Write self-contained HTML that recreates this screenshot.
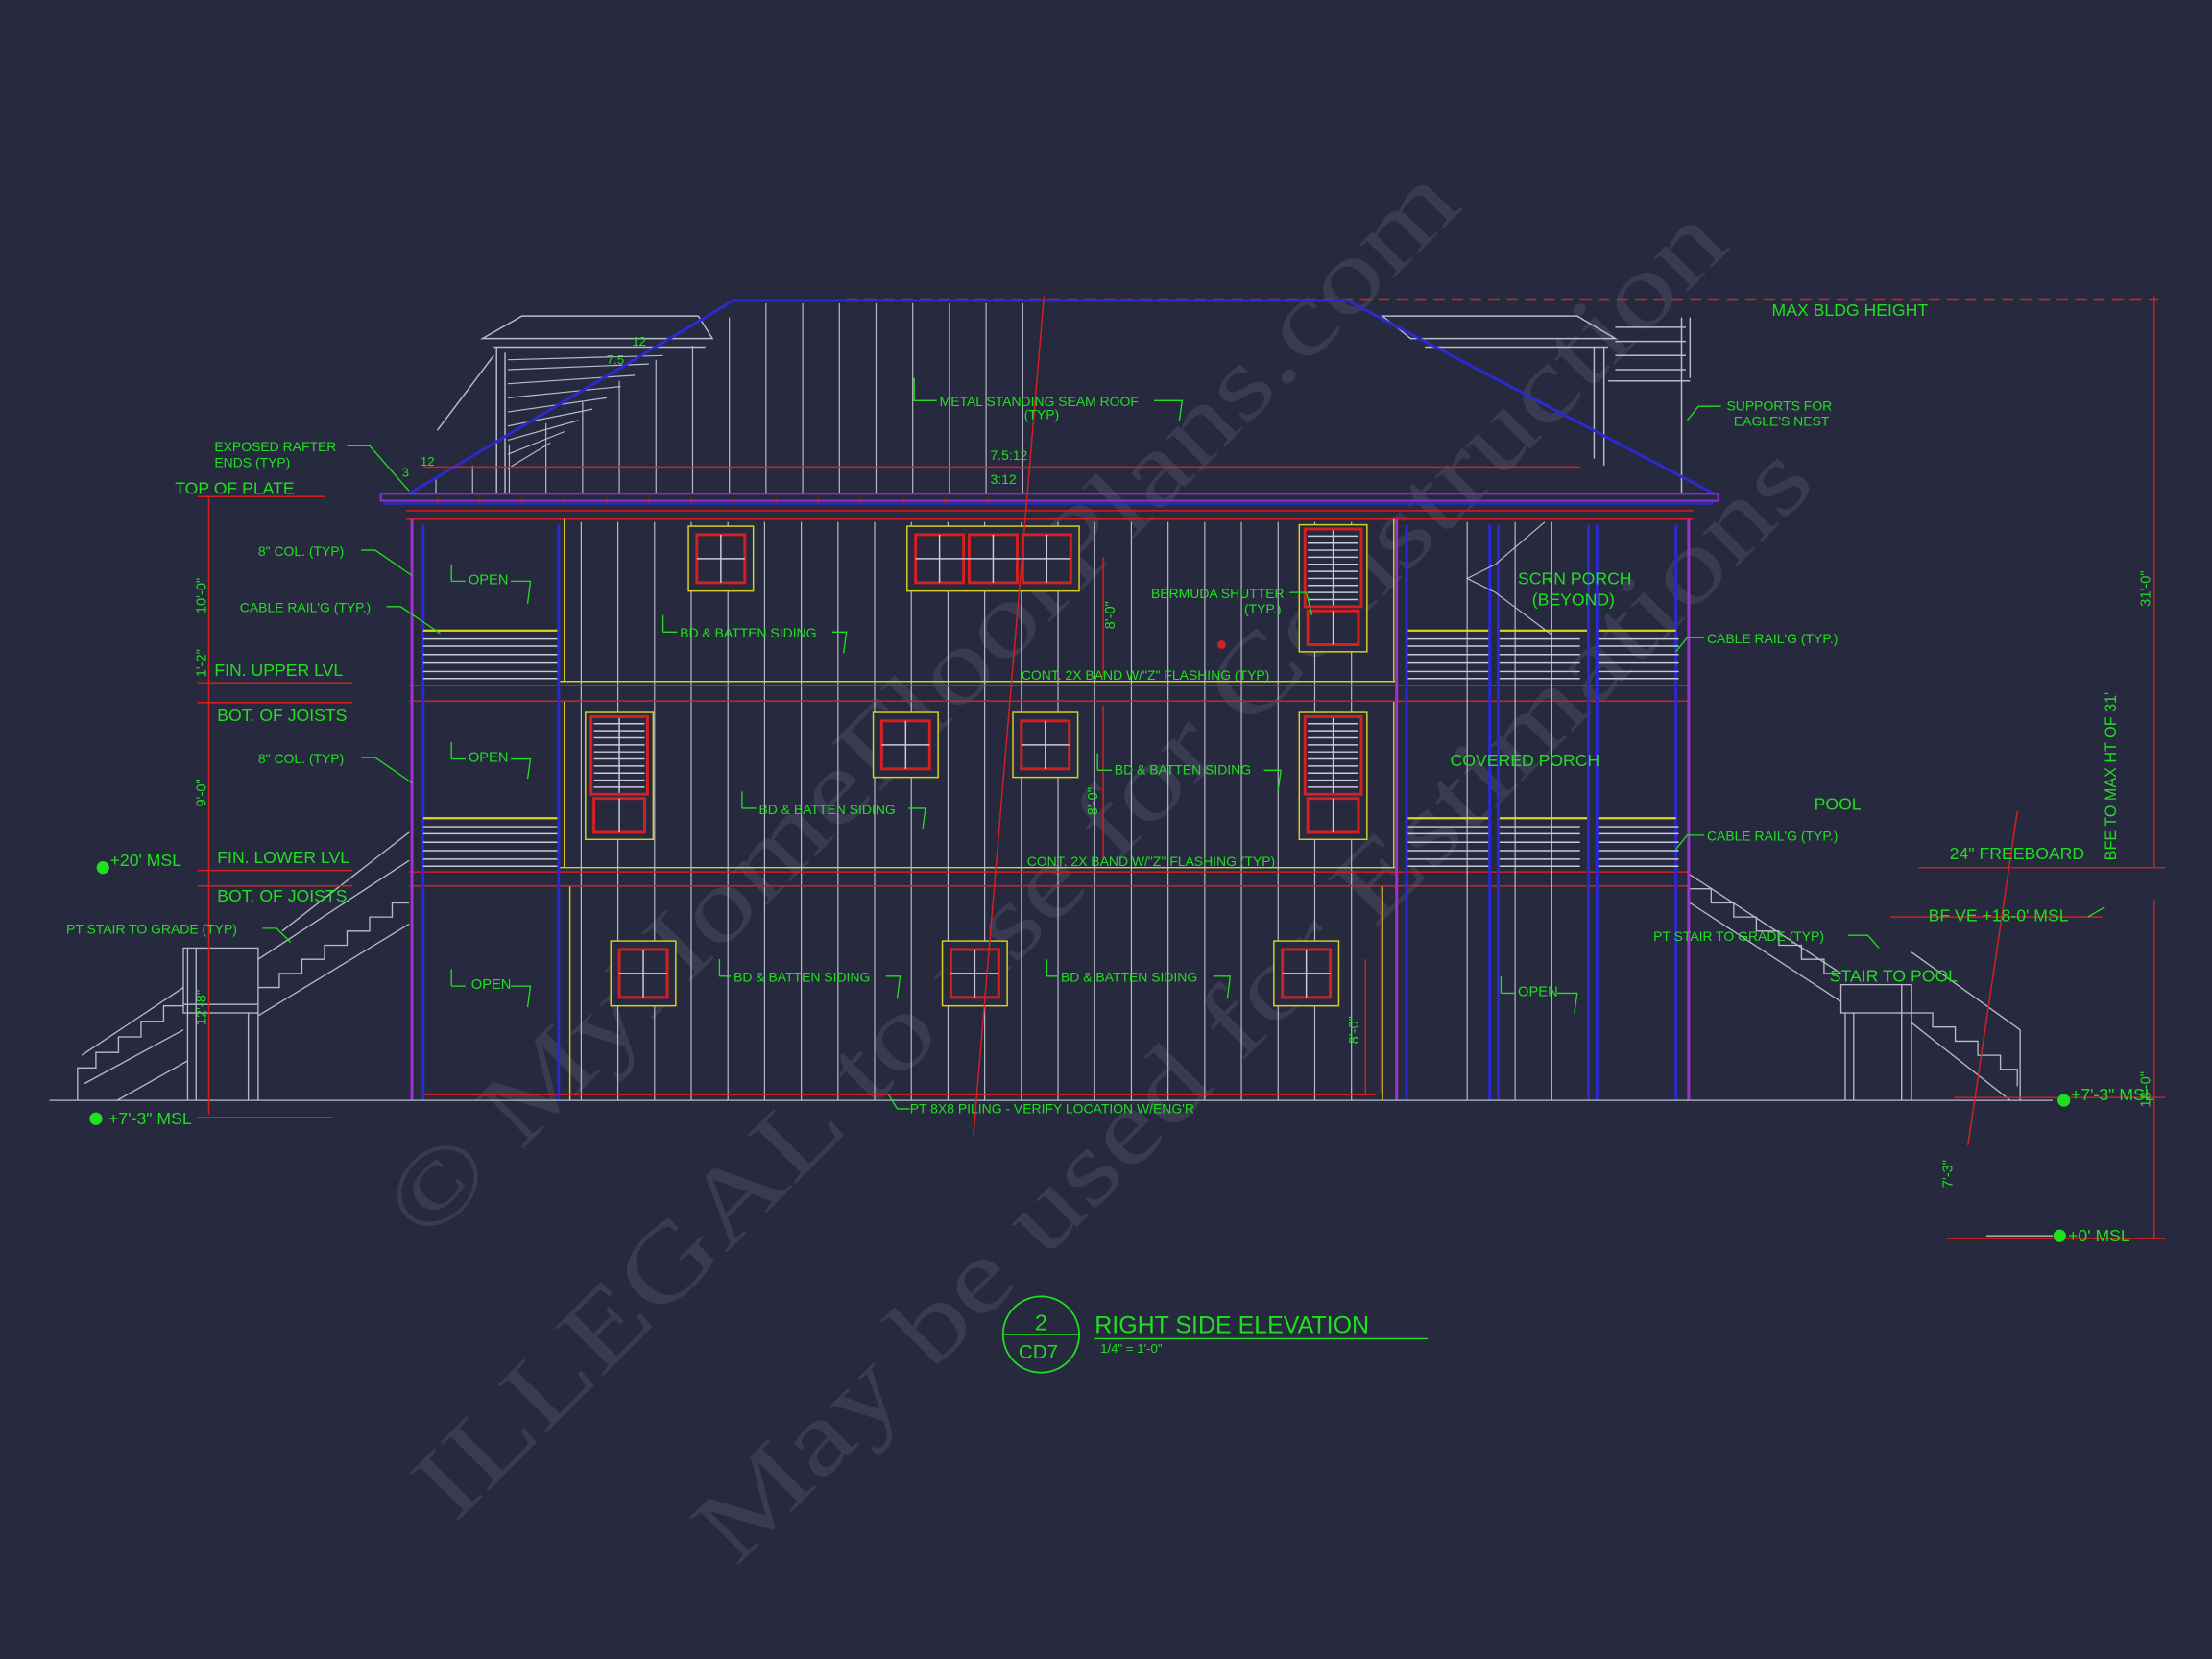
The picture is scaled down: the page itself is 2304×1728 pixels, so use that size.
<!DOCTYPE html>
<html><head><meta charset="utf-8"><style>
html,body{margin:0;padding:0;background:#272a3e;}
svg{display:block}
text{font-family:"Liberation Sans",sans-serif;fill:#1fe01f;}
</style></head><body>
<svg width="2304" height="1728" viewBox="0 0 1568 1176" xmlns="http://www.w3.org/2000/svg">
<rect width="1568" height="1176" fill="#272a3e"/>
<!-- watermark -->
<g>
<text x="0" y="0" font-size="74" textLength="1040" lengthAdjust="spacingAndGlyphs" transform="translate(670,515) rotate(-45)" text-anchor="middle" style="fill:#393c51;font-family:'Liberation Serif',serif">© MyHomeFloorPlans.com</text>
<text x="0" y="0" font-size="74" textLength="1280" lengthAdjust="spacingAndGlyphs" transform="translate(775,628) rotate(-45)" text-anchor="middle" style="fill:#393c51;font-family:'Liberation Serif',serif">ILLEGAL to use for Construction</text>
<text x="0" y="0" font-size="74" textLength="1085" lengthAdjust="spacingAndGlyphs" transform="translate(905,728) rotate(-45)" text-anchor="middle" style="fill:#393c51;font-family:'Liberation Serif',serif">May be used for Estimations</text>
</g>

<line x1="600" y1="212" x2="1530" y2="212" stroke="#d42020" stroke-width="1" stroke-dasharray="8,5"/>
<g fill="none" stroke="#b8bcc8" stroke-width="1">
<polygon points="342,240 370,224 495,224 505,240"/>
<line x1="350" y1="246" x2="500" y2="246"/>
<line x1="352" y1="246" x2="352" y2="350"/>
<line x1="358" y1="250" x2="358" y2="350"/>
<line x1="350" y1="252" x2="310" y2="305"/>
<polygon points="980,224 1118,224 1145,240 1000,240"/>
<line x1="1010" y1="246" x2="1140" y2="246"/>
<line x1="1130" y1="246" x2="1130" y2="325"/>
<line x1="1137" y1="246" x2="1137" y2="330"/>
<line x1="1192" y1="225" x2="1192" y2="350"/>
<line x1="1198" y1="225" x2="1198" y2="268"/>
<line x1="1145" y1="232" x2="1195" y2="232"/><line x1="1145" y1="242" x2="1195" y2="242"/>
<line x1="1145" y1="252" x2="1195" y2="252"/><line x1="1145" y1="262" x2="1195" y2="262"/>
<line x1="1140" y1="270" x2="1198" y2="270"/>
</g>
<g stroke="#b8bcc8" stroke-width="0.8">
<line x1="360" y1="255" x2="470" y2="252"/>
<line x1="360" y1="262" x2="460" y2="258"/><line x1="360" y1="272" x2="450" y2="266"/>
<line x1="360" y1="282" x2="440" y2="274"/><line x1="360" y1="292" x2="430" y2="282"/>
<line x1="360" y1="302" x2="420" y2="290"/><line x1="360" y1="312" x2="410" y2="298"/>
<line x1="360" y1="322" x2="400" y2="306"/><line x1="360" y1="332" x2="390" y2="314"/>
</g>
<g stroke="#b8bcc8" stroke-width="0.8">
<line x1="543" y1="215" x2="543" y2="350"/><line x1="569" y1="215" x2="569" y2="350"/>
<line x1="595" y1="215" x2="595" y2="350"/><line x1="621" y1="215" x2="621" y2="350"/>
<line x1="647" y1="215" x2="647" y2="350"/><line x1="673" y1="215" x2="673" y2="350"/>
<line x1="699" y1="215" x2="699" y2="350"/><line x1="725" y1="215" x2="725" y2="350"/>
<line x1="517" y1="225" x2="517" y2="350"/><line x1="491" y1="245" x2="491" y2="350"/>
<line x1="465" y1="255" x2="465" y2="350"/><line x1="439" y1="270" x2="439" y2="350"/>
<line x1="413" y1="285" x2="413" y2="350"/><line x1="387" y1="300" x2="387" y2="350"/>
<line x1="361" y1="315" x2="361" y2="350"/><line x1="335" y1="330" x2="335" y2="350"/>
<line x1="309" y1="340" x2="309" y2="350"/>
</g>
<polyline points="290,350 520,213 955,213 1215,350" fill="none" stroke="#2a2ad0" stroke-width="2"/>
<line x1="300" y1="331" x2="1120" y2="331" stroke="#d42020" stroke-width="1"/>
<rect x="270" y="350" width="948" height="5" fill="none" stroke="#8a2ad0" stroke-width="1.5"/>
<line x1="272" y1="357" x2="1215" y2="357" stroke="#2a2ad0" stroke-width="1.5"/>
<line x1="288" y1="362" x2="1200" y2="362" stroke="#d42020"/>
<line x1="288" y1="368" x2="1200" y2="368" stroke="#d42020"/>
<g fill="#d42020"><circle cx="310" cy="355" r="1.2"/><circle cx="340" cy="355" r="1.2"/><circle cx="370" cy="355" r="1.2"/><circle cx="400" cy="355" r="1.2"/><circle cx="430" cy="355" r="1.2"/><circle cx="460" cy="355" r="1.2"/><circle cx="490" cy="355" r="1.2"/><circle cx="520" cy="355" r="1.2"/><circle cx="550" cy="355" r="1.2"/><circle cx="580" cy="355" r="1.2"/><circle cx="610" cy="355" r="1.2"/><circle cx="640" cy="355" r="1.2"/><circle cx="670" cy="355" r="1.2"/><circle cx="700" cy="355" r="1.2"/><circle cx="866" cy="457" r="3"/></g>

<g stroke="#b8bcc8" stroke-width="0.8">
<line x1="412" y1="370" x2="412" y2="780"/><line x1="438" y1="370" x2="438" y2="780"/><line x1="464" y1="370" x2="464" y2="780"/>
<line x1="490" y1="370" x2="490" y2="780"/><line x1="516" y1="370" x2="516" y2="780"/><line x1="542" y1="370" x2="542" y2="780"/>
<line x1="568" y1="370" x2="568" y2="780"/><line x1="594" y1="370" x2="594" y2="780"/><line x1="620" y1="370" x2="620" y2="780"/>
<line x1="646" y1="370" x2="646" y2="780"/><line x1="672" y1="370" x2="672" y2="780"/><line x1="698" y1="370" x2="698" y2="780"/>
<line x1="724" y1="370" x2="724" y2="780"/><line x1="750" y1="370" x2="750" y2="780"/><line x1="776" y1="370" x2="776" y2="780"/>
<line x1="802" y1="370" x2="802" y2="780"/><line x1="828" y1="370" x2="828" y2="780"/><line x1="854" y1="370" x2="854" y2="780"/>
<line x1="880" y1="370" x2="880" y2="780"/><line x1="906" y1="370" x2="906" y2="780"/><line x1="932" y1="370" x2="932" y2="780"/>
<line x1="958" y1="370" x2="958" y2="780"/>
</g>
<g fill="none" stroke="#d8d020" stroke-width="1">
<line x1="400" y1="368" x2="400" y2="483"/><line x1="988" y1="368" x2="988" y2="483"/>
<line x1="400" y1="497" x2="400" y2="615"/><line x1="988" y1="497" x2="988" y2="615"/>
<line x1="404" y1="628" x2="404" y2="780"/><line x1="980" y1="628" x2="980" y2="780"/>
<line x1="396" y1="483" x2="990" y2="483"/><line x1="396" y1="615" x2="990" y2="615"/>
</g>
<g stroke="#d42020" stroke-width="1">
<line x1="290" y1="486" x2="1198" y2="486"/><line x1="290" y1="497" x2="1198" y2="497"/>
<line x1="290" y1="618" x2="1198" y2="618"/><line x1="290" y1="628" x2="1198" y2="628"/>
<line x1="300" y1="776" x2="975" y2="776"/>
<line x1="979" y1="628" x2="979" y2="776"/>
</g>
<g fill="none" stroke-width="2">
<line x1="292" y1="368" x2="292" y2="780" stroke="#a030d0"/>
<line x1="300" y1="372" x2="300" y2="780" stroke="#2a2ad0"/>
<line x1="396" y1="372" x2="396" y2="780" stroke="#2a2ad0"/>
<line x1="990" y1="368" x2="990" y2="780" stroke="#a030d0"/>
<line x1="997" y1="372" x2="997" y2="780" stroke="#2a2ad0"/>
<line x1="1056" y1="372" x2="1056" y2="780" stroke="#2a2ad0"/>
<line x1="1062" y1="372" x2="1062" y2="780" stroke="#2a2ad0"/>
<line x1="1126" y1="372" x2="1126" y2="780" stroke="#2a2ad0"/>
<line x1="1132" y1="372" x2="1132" y2="780" stroke="#2a2ad0"/>
<line x1="1188" y1="372" x2="1188" y2="780" stroke="#2a2ad0"/>
<line x1="1197" y1="368" x2="1197" y2="780" stroke="#a030d0"/>
</g>
<g stroke="#b8bcc8" stroke-width="0.8" fill="none">
<line x1="1040" y1="370" x2="1040" y2="780"/><line x1="1074" y1="370" x2="1074" y2="780"/><line x1="1100" y1="370" x2="1100" y2="780"/>
<polyline points="1095,370 1060,400 1040,410 1060,420 1100,450"/>
</g>
<g stroke="#c8ccd8" stroke-width="1">
<g id="r1">
<line x1="300" y1="453" x2="395" y2="453"/><line x1="300" y1="458" x2="395" y2="458"/><line x1="300" y1="464" x2="395" y2="464"/><line x1="300" y1="470" x2="395" y2="470"/><line x1="300" y1="476" x2="395" y2="476"/><line x1="300" y1="481" x2="395" y2="481"/>
</g>
<use href="#r1" transform="translate(0,133)"/>
<g id="r2">
<line x1="998" y1="453" x2="1055" y2="453"/><line x1="998" y1="458" x2="1055" y2="458"/><line x1="998" y1="464" x2="1055" y2="464"/><line x1="998" y1="470" x2="1055" y2="470"/><line x1="998" y1="476" x2="1055" y2="476"/><line x1="998" y1="481" x2="1055" y2="481"/>
</g>
<use href="#r2" transform="translate(65,0)"/><use href="#r2" transform="translate(135,0)"/>
<use href="#r2" transform="translate(0,133)"/><use href="#r2" transform="translate(65,133)"/><use href="#r2" transform="translate(135,133)"/>
</g>
<g stroke="#e0d820" stroke-width="1.5">
<line x1="300" y1="447" x2="395" y2="447"/><line x1="300" y1="580" x2="395" y2="580"/>
<line x1="998" y1="447" x2="1055" y2="447"/><line x1="1063" y1="447" x2="1125" y2="447"/><line x1="1133" y1="447" x2="1188" y2="447"/>
<line x1="998" y1="580" x2="1055" y2="580"/><line x1="1063" y1="580" x2="1125" y2="580"/><line x1="1133" y1="580" x2="1188" y2="580"/>
</g>

<g fill="#272a3e" stroke-width="2">
<rect x="488" y="373" width="46" height="46" stroke="#d8d020" stroke-width="1"/>
<rect x="494" y="379" width="34" height="34" stroke="#d42020"/>
<rect x="643" y="373" width="122" height="46" stroke="#d8d020" stroke-width="1"/>
<rect x="649" y="379" width="34" height="34" stroke="#d42020"/><rect x="687" y="379" width="34" height="34" stroke="#d42020"/><rect x="725" y="379" width="34" height="34" stroke="#d42020"/>
<rect x="619" y="505" width="46" height="46" stroke="#d8d020" stroke-width="1"/><rect x="625" y="511" width="34" height="34" stroke="#d42020"/>
<rect x="718" y="505" width="46" height="46" stroke="#d8d020" stroke-width="1"/><rect x="724" y="511" width="34" height="34" stroke="#d42020"/>
<rect x="433" y="667" width="46" height="46" stroke="#d8d020" stroke-width="1"/><rect x="439" y="673" width="34" height="34" stroke="#d42020"/>
<rect x="668" y="667" width="46" height="46" stroke="#d8d020" stroke-width="1"/><rect x="674" y="673" width="34" height="34" stroke="#d42020"/>
<rect x="903" y="667" width="46" height="46" stroke="#d8d020" stroke-width="1"/><rect x="909" y="673" width="34" height="34" stroke="#d42020"/>
<rect x="921" y="372" width="48" height="90" stroke="#d8d020" stroke-width="1"/>
<rect x="925" y="375" width="40" height="55" stroke="#d42020"/><rect x="927" y="433" width="36" height="24" stroke="#d42020"/>
<rect x="415" y="505" width="48" height="90" stroke="#d8d020" stroke-width="1"/>
<rect x="419" y="508" width="40" height="55" stroke="#d42020"/><rect x="421" y="566" width="36" height="24" stroke="#d42020"/>
<rect x="921" y="505" width="48" height="90" stroke="#d8d020" stroke-width="1"/>
<rect x="925" y="508" width="40" height="55" stroke="#d42020"/><rect x="927" y="566" width="36" height="24" stroke="#d42020"/>
</g>
<g stroke="#c8ccd8" stroke-width="1">
<path d="M494,396h34M511,379v34M649,396h110M666,379v34M704,379v34M742,379v34M625,528h34M642,511v34M724,528h34M741,511v34M439,690h34M456,673v34M674,690h34M691,673v34M909,690h34M926,673v34M945,433v24M439,566v24M945,566v24"/>
<path d="M927,380h36M927,385h36M927,390h36M927,395h36M927,400h36M927,405h36M927,410h36M927,415h36M927,420h36M927,425h36M945,376v53"/>
<path d="M421,513h36M421,518h36M421,523h36M421,528h36M421,533h36M421,538h36M421,543h36M421,548h36M421,553h36M421,558h36M439,509v53"/>
<path d="M927,513h36M927,518h36M927,523h36M927,528h36M927,533h36M927,538h36M927,543h36M927,548h36M927,553h36M927,558h36M945,509v53"/>
</g>

<g fill="none" stroke="#b8bcc8" stroke-width="0.9">
<line x1="35" y1="780" x2="1455" y2="780"/>
<polyline points="55,780 55,757 68,757 68,746 84,746 84,735 100,735 100,724 116,724 116,713 130,713"/>
<line x1="60" y1="768" x2="130" y2="730"/><line x1="83" y1="780" x2="133" y2="752"/>
<line x1="58" y1="748" x2="130" y2="700"/>
<rect x="130" y="672" width="53" height="46"/>
<line x1="130" y1="712" x2="183" y2="712"/>
<line x1="133" y1="672" x2="133" y2="780"/><line x1="139" y1="672" x2="139" y2="780"/>
<line x1="176" y1="718" x2="176" y2="780"/><line x1="183" y1="718" x2="183" y2="780"/>
<line x1="183" y1="680" x2="290" y2="610"/><line x1="183" y1="720" x2="290" y2="655"/>
<polyline points="183,700 198,700 198,690 214,690 214,680 230,680 230,670 246,670 246,660 262,660 262,650 278,650 278,640 290,640"/>
<line x1="290" y1="590" x2="200" y2="660"/>
<line x1="1198" y1="620" x2="1305" y2="690"/><line x1="1198" y1="640" x2="1305" y2="710"/>
<polyline points="1198,630 1213,630 1213,640 1229,640 1229,650 1245,650 1245,660 1261,660 1261,670 1277,670 1277,680 1293,680 1293,690 1305,690"/>
<rect x="1305" y="698" width="50" height="20"/>
<line x1="1308" y1="718" x2="1308" y2="780"/><line x1="1314" y1="718" x2="1314" y2="780"/>
<line x1="1348" y1="698" x2="1348" y2="780"/><line x1="1355" y1="698" x2="1355" y2="780"/>
<line x1="1355" y1="675" x2="1432" y2="730"/><line x1="1432" y1="730" x2="1432" y2="780"/>
<line x1="1355" y1="725" x2="1425" y2="780"/>
<polyline points="1355,718 1370,718 1370,728 1386,728 1386,738 1402,738 1402,748 1418,748 1418,758 1430,758 1430,770"/>
</g>

<g stroke="#d42020" stroke-width="1" fill="none">
<line x1="148" y1="352" x2="148" y2="790"/>
<line x1="140" y1="352" x2="230" y2="352"/>
<line x1="140" y1="484" x2="250" y2="484"/><line x1="140" y1="498" x2="250" y2="498"/>
<line x1="140" y1="617" x2="250" y2="617"/><line x1="140" y1="628" x2="250" y2="628"/>
<line x1="140" y1="792" x2="236" y2="792"/>
<line x1="1527" y1="210" x2="1527" y2="615"/><line x1="1360" y1="615" x2="1535" y2="615"/>
<line x1="1527" y1="638" x2="1527" y2="878"/><line x1="1380" y1="878" x2="1535" y2="878"/>
<line x1="1385" y1="778" x2="1535" y2="778"/>
<line x1="1395" y1="812" x2="1430" y2="575"/>
<line x1="1340" y1="650" x2="1490" y2="650"/>
<line x1="782" y1="395" x2="782" y2="480"/><line x1="782" y1="500" x2="782" y2="610"/><line x1="968" y1="680" x2="968" y2="776"/>
<line x1="740" y1="210" x2="690" y2="805"/>
</g>
<line x1="1408" y1="876" x2="1455" y2="876" stroke="#b8bcc8"/>

<g font-size="10.5">
<text x="1256" y="224" font-size="12">MAX BLDG HEIGHT</text>
<text x="666" y="288" font-size="9.5">METAL STANDING SEAM ROOF</text><text x="726" y="297" font-size="9.5">(TYP)</text>
<text x="702" y="326" font-size="9.5">7.5:12</text><text x="702" y="343" font-size="9.5">3:12</text>
<text x="448" y="245" font-size="9">12</text><text x="430" y="258" font-size="9">7.5</text>
<text x="298" y="330" font-size="9">12</text><text x="285" y="338" font-size="9">3</text>
<text x="152" y="320" font-size="9.5">EXPOSED RAFTER</text><text x="152" y="331" font-size="9.5">ENDS (TYP)</text>
<text x="124" y="350" font-size="12">TOP OF PLATE</text>
<text x="183" y="394" font-size="9.5">8" COL. (TYP)</text>
<text x="170" y="434" font-size="9.5">CABLE RAIL'G (TYP.)</text>
<text x="152" y="479" font-size="12">FIN. UPPER LVL</text>
<text x="154" y="511" font-size="12">BOT. OF JOISTS</text>
<text x="183" y="541" font-size="9.5">8" COL. (TYP)</text>
<text x="154" y="612" font-size="12">FIN. LOWER LVL</text>
<text x="154" y="639" font-size="12">BOT. OF JOISTS</text>
<text x="78" y="614" font-size="12">+20' MSL</text>
<text x="47" y="662" font-size="9.5">PT STAIR TO GRADE (TYP)</text>
<text x="77" y="797" font-size="12">+7'-3" MSL</text>
<text x="332" y="414" font-size="10">OPEN</text><text x="332" y="540" font-size="10">OPEN</text><text x="334" y="701" font-size="10">OPEN</text>
<text x="1076" y="706" font-size="10">OPEN</text>
<text x="482" y="452" font-size="9.5">BD &amp; BATTEN SIDING</text>
<text x="538" y="577" font-size="9.5">BD &amp; BATTEN SIDING</text>
<text x="520" y="696" font-size="9.5">BD &amp; BATTEN SIDING</text>
<text x="752" y="696" font-size="9.5">BD &amp; BATTEN SIDING</text>
<text x="790" y="549" font-size="9.5">BD &amp; BATTEN SIDING</text>
<text x="724" y="482" font-size="9.5">CONT. 2X BAND W/"Z" FLASHING (TYP)</text>
<text x="728" y="614" font-size="9.5">CONT. 2X BAND W/"Z" FLASHING (TYP)</text>
<text x="816" y="424" font-size="9.5">BERMUDA SHUTTER</text><text x="882" y="435" font-size="9.5">(TYP.)</text>
<text x="645" y="789" font-size="9.5">PT 8X8 PILING - VERIFY LOCATION W/ENG'R</text>
<text x="1076" y="414" font-size="12">SCRN PORCH</text><text x="1086" y="429" font-size="12">(BEYOND)</text>
<text x="1028" y="543" font-size="12">COVERED PORCH</text>
<text x="1224" y="291" font-size="9.5">SUPPORTS FOR</text><text x="1229" y="302" font-size="9.5">EAGLE'S NEST</text>
<text x="1210" y="456" font-size="9.5">CABLE RAIL'G (TYP.)</text>
<text x="1210" y="596" font-size="9.5">CABLE RAIL'G (TYP.)</text>
<text x="1286" y="574" font-size="12">POOL</text>
<text x="1382" y="609" font-size="12">24" FREEBOARD</text>
<text x="1367" y="653" font-size="12">BF VE +18-0' MSL</text>
<text x="1172" y="667" font-size="9.5">PT STAIR TO GRADE (TYP)</text>
<text x="1297" y="696" font-size="12">STAIR TO POOL</text>
<text x="1468" y="780" font-size="12">+7'-3" MSL</text>
<text x="1466" y="880" font-size="12">+0' MSL</text>
<text font-size="10" transform="translate(146,435) rotate(-90)">10'-0"</text>
<text font-size="10" transform="translate(146,480) rotate(-90)">1'-2"</text>
<text font-size="10" transform="translate(146,572) rotate(-90)">9'-0"</text>
<text font-size="10" transform="translate(146,727) rotate(-90)">12'-8"</text>
<text font-size="10" transform="translate(790,446) rotate(-90)">8'-0"</text>
<text font-size="10" transform="translate(778,578) rotate(-90)">8'-0"</text>
<text font-size="10" transform="translate(963,740) rotate(-90)">8'-0"</text>
<text font-size="10" transform="translate(1384,842) rotate(-90)">7'-3"</text>
<text font-size="10" transform="translate(1524,430) rotate(-90)">31'-0"</text>
<text font-size="10" transform="translate(1524,785) rotate(-90)">18'-0"</text>
<text font-size="11" transform="translate(1500,610) rotate(-90)">BFE TO MAX HT OF 31'</text>
</g>
<g stroke="#1fe01f" stroke-width="0.9" fill="none">
<polyline points="246,316 262,316 290,348"/><polyline points="256,390 266,390 292,408"/><polyline points="274,430 284,430 312,449"/>
<polyline points="256,537 266,537 292,555"/><polyline points="186,658 196,658 206,668"/>
<path d="M320,412 320,400 M320,412 330,412 M362,412 376,412 374,428"/>
<path d="M320,538 320,526 M320,538 330,538 M362,538 376,538 374,552"/>
<path d="M320,699 320,687 M320,699 330,699 M362,699 376,699 374,714"/>
<path d="M1064,704 1064,692 M1064,704 1074,704 M1104,704 1118,704 1116,718"/>
<path d="M470,448 470,436 M470,448 480,448 M590,448 600,448 598,463"/>
<path d="M526,573 526,561 M526,573 536,573 M644,573 656,573 654,588"/>
<path d="M510,692 510,680 M510,692 518,692 M628,692 638,692 636,708"/>
<path d="M742,692 742,680 M742,692 750,692 M860,692 872,692 870,708"/>
<path d="M778,546 778,534 M778,546 788,546 M896,546 908,546 906,560"/>
<path d="M648,268 648,284 664,284 M818,284 838,284 836,298"/>
<polyline points="914,420 926,420 930,436"/><polyline points="1220,288 1204,288 1196,298"/>
<polyline points="1208,452 1196,452 1188,462"/><polyline points="1208,592 1196,592 1188,602"/>
<polyline points="1310,663 1324,663 1332,672"/><polyline points="1480,650 1492,643"/>
<polyline points="630,776 636,786 645,786"/>
</g>
<g fill="#1fe01f">
<circle cx="73" cy="615" r="4.5"/><circle cx="68" cy="793" r="4.5"/><circle cx="1463" cy="780" r="4.5"/><circle cx="1460" cy="876" r="4.5"/>
</g>
<circle cx="738" cy="946" r="27" fill="none" stroke="#1fe01f" stroke-width="1.2"/>
<line x1="711" y1="946" x2="765" y2="946" stroke="#1fe01f"/>
<text x="738" y="943" font-size="16" text-anchor="middle">2</text>
<text x="736" y="963" font-size="14" text-anchor="middle">CD7</text>
<text x="776" y="945" font-size="17">RIGHT SIDE  ELEVATION</text>
<line x1="776" y1="949" x2="1012" y2="949" stroke="#1fe01f"/>
<text x="780" y="959" font-size="9">1/4" = 1'-0"</text>
</svg>
</body></html>
